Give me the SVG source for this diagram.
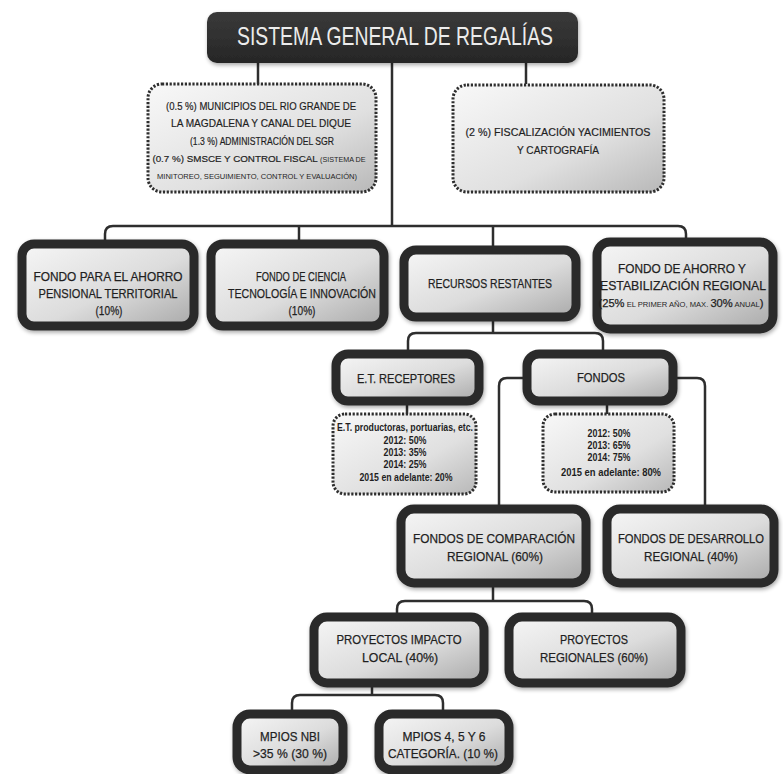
<svg xmlns="http://www.w3.org/2000/svg" width="783" height="774" viewBox="0 0 783 774">
<defs>
<linearGradient id="gBox" x1="0" y1="0" x2="1" y2="1">
<stop offset="0" stop-color="#f6f6f6"/><stop offset="0.55" stop-color="#dcdcdc"/><stop offset="1" stop-color="#a9a9a9"/>
</linearGradient>
<linearGradient id="gDash" x1="0" y1="0" x2="1" y2="1">
<stop offset="0" stop-color="#f8f8f8"/><stop offset="0.6" stop-color="#e0e0e0"/><stop offset="1" stop-color="#b8b8b8"/>
</linearGradient>
<linearGradient id="gTitle" x1="0" y1="0" x2="0" y2="1">
<stop offset="0" stop-color="#3a3a3a"/><stop offset="1" stop-color="#262626"/>
</linearGradient>
<filter id="sh" x="-10%" y="-10%" width="120%" height="130%">
<feGaussianBlur in="SourceAlpha" stdDeviation="2"/><feOffset dx="1" dy="2"/>
<feComponentTransfer><feFuncA type="linear" slope="0.35"/></feComponentTransfer>
<feMerge><feMergeNode/><feMergeNode in="SourceGraphic"/></feMerge>
</filter>
</defs>
<style>
.box{fill:url(#gBox);stroke:#2a2a2a;stroke-width:9;filter:url(#sh)}
.dash{fill:url(#gDash);stroke:#2e2e2e;stroke-width:3;stroke-dasharray:2.2 1.6}
.conn{fill:none;stroke:#2e2e2e;stroke-width:2.5}
text{font-family:"Liberation Sans",Arial,sans-serif;fill:#1f1f1f;text-anchor:middle}
.st{text-anchor:start}
.t{font-size:13px;stroke:#1f1f1f;stroke-width:0.25}
.s{font-size:11.5px;stroke:#1f1f1f;stroke-width:0.2}
.sm{font-size:7.5px}
.ts{font-size:11px;stroke:#1f1f1f;stroke-width:0.25}
.b{font-size:10.5px;font-weight:bold}
.title{font-size:26px;fill:#ececec}
</style>

<g id="connectors">
<path class="conn" d="M392,63 V226"/>
<path class="conn" d="M258,63 V84"/>
<path class="conn" d="M526,63 V84"/>
<path class="conn" d="M105,241 V234 Q105,226 113,226 H678 Q686,226 686,234 V239"/>
<path class="conn" d="M299,226 V241"/>
<path class="conn" d="M493,226 V247"/>
<path class="conn" d="M493,320 V333"/>
<path class="conn" d="M408,351 V341 Q408,333 416,333 H595 Q603,333 603,341 V351"/>
<path class="conn" d="M407,405 V414"/>
<path class="conn" d="M607,405 V414"/>
<path class="conn" d="M523,378 H507 Q499,378 499,386 V506"/>
<path class="conn" d="M677,378 H697 Q705,378 705,386 V506"/>
<path class="conn" d="M493,587 V601"/>
<path class="conn" d="M397,614 V609 Q397,601 405,601 H584 Q592,601 592,609 V614"/>
<path class="conn" d="M372,687 V695"/>
<path class="conn" d="M292,711 V703 Q292,695 300,695 H435 Q443,695 443,703 V711"/>
</g>

<g id="n-title">
<rect x="207" y="12" width="371" height="51" rx="10" fill="url(#gTitle)" filter="url(#sh)"/>
<text class="title" x="395" y="45" textLength="316" lengthAdjust="spacingAndGlyphs">SISTEMA GENERAL DE REGALÍAS</text>
</g>

<g id="n-municipios">
<rect class="dash" x="148" y="84" width="228" height="108" rx="14"/>
<text class="s" x="261" y="110" textLength="190" lengthAdjust="spacingAndGlyphs">(0.5 %) MUNICIPIOS DEL RIO GRANDE DE</text>
<text class="s" x="261" y="127" textLength="180" lengthAdjust="spacingAndGlyphs">LA MAGDALENA Y CANAL DEL DIQUE</text>
<text class="s" x="262" y="145" textLength="144" lengthAdjust="spacingAndGlyphs">(1.3 %) ADMINISTRACIÓN DEL SGR</text>
<text x="259" y="162" style="font-size:9.8px;stroke:#1f1f1f;stroke-width:0.2">(0.7 %) SMSCE Y CONTROL FISCAL <tspan style="font-size:7.2px;stroke-width:0">(SISTEMA DE</tspan></text>
<text class="sm" x="257" y="179" textLength="200" lengthAdjust="spacingAndGlyphs">MINITOREO, SEGUIMIENTO, CONTROL Y EVALUACIÓN)</text>
</g>

<g id="n-fiscalizacion">
<rect class="dash" x="453" y="85" width="211" height="107" rx="14"/>
<text class="s" x="558" y="136" textLength="185" lengthAdjust="spacingAndGlyphs">(2 %) FISCALIZACIÓN YACIMIENTOS</text>
<text class="s" x="558" y="154" textLength="82" lengthAdjust="spacingAndGlyphs">Y CARTOGRAFÍA</text>
</g>

<g id="n-pensional">
<rect class="box" x="22" y="244" width="172" height="82" rx="12"/>
<text class="t" x="108" y="281" textLength="149" lengthAdjust="spacingAndGlyphs">FONDO PARA EL AHORRO</text>
<text class="t" x="108" y="298" textLength="139" lengthAdjust="spacingAndGlyphs">PENSIONAL TERRITORIAL</text>
<text class="t" x="109" y="315" textLength="27" lengthAdjust="spacingAndGlyphs">(10%)</text>
</g>

<g id="n-ciencia">
<rect class="box" x="211" y="244" width="173" height="82" rx="12"/>
<text class="t" x="301" y="281" textLength="90" lengthAdjust="spacingAndGlyphs">FONDO DE CIENCIA</text>
<text class="t" x="302" y="298" textLength="148" lengthAdjust="spacingAndGlyphs">TECNOLOGÍA E INNOVACIÓN</text>
<text class="t" x="302" y="315" textLength="27" lengthAdjust="spacingAndGlyphs">(10%)</text>
</g>

<g id="n-recursos">
<rect class="box" x="404" y="250" width="172" height="67" rx="12"/>
<text class="t" x="490" y="288" textLength="124" lengthAdjust="spacingAndGlyphs">RECURSOS RESTANTES</text>
</g>

<g id="n-estabilizacion">
<rect class="box" x="597" y="242" width="176" height="87" rx="13"/>
<text class="t" x="682" y="273" textLength="128" lengthAdjust="spacingAndGlyphs">FONDO DE AHORRO Y</text>
<text class="t" x="683" y="290" textLength="166" lengthAdjust="spacingAndGlyphs">ESTABILIZACIÓN REGIONAL</text>
<text class="ts" x="681" y="307" textLength="165" lengthAdjust="spacingAndGlyphs">(25%<tspan class="sm" stroke-width="0"> EL PRIMER AÑO, MAX. </tspan>30%<tspan class="sm" stroke-width="0"> ANUAL</tspan>)</text>
</g>

<g id="n-receptores">
<rect class="box" x="336" y="354" width="143" height="47" rx="12"/>
<text class="t" x="406" y="383" textLength="98" lengthAdjust="spacingAndGlyphs">E.T. RECEPTORES</text>
</g>

<g id="n-fondos">
<rect class="box" x="527" y="354" width="146" height="47" rx="12"/>
<text class="t" x="601" y="382" textLength="48" lengthAdjust="spacingAndGlyphs">FONDOS</text>
</g>

<g id="n-receptores-detalle">
<rect class="dash" x="333" y="414" width="143" height="80" rx="12"/>
<text class="b" x="405" y="431" textLength="136" lengthAdjust="spacingAndGlyphs">E.T. productoras, portuarias, etc.</text>
<text class="b" x="405" y="444" textLength="43" lengthAdjust="spacingAndGlyphs">2012: 50%</text>
<text class="b" x="405" y="456" textLength="43" lengthAdjust="spacingAndGlyphs">2013: 35%</text>
<text class="b" x="405" y="468" textLength="43" lengthAdjust="spacingAndGlyphs">2014: 25%</text>
<text class="b" x="406" y="481" textLength="93" lengthAdjust="spacingAndGlyphs">2015 en adelante: 20%</text>
</g>

<g id="n-fondos-detalle">
<rect class="dash" x="543" y="414" width="131" height="78" rx="12"/>
<text class="b" x="609" y="437" textLength="43" lengthAdjust="spacingAndGlyphs">2012: 50%</text>
<text class="b" x="609" y="449" textLength="43" lengthAdjust="spacingAndGlyphs">2013: 65%</text>
<text class="b" x="609" y="461" textLength="43" lengthAdjust="spacingAndGlyphs">2014: 75%</text>
<text class="b" x="611" y="476" textLength="100" lengthAdjust="spacingAndGlyphs">2015 en adelante: 80%</text>
</g>

<g id="n-compensacion">
<rect class="box" x="401" y="509" width="185" height="74" rx="13"/>
<text class="t" x="494" y="543" textLength="162" lengthAdjust="spacingAndGlyphs">FONDOS DE COMPARACIÓN</text>
<text class="t" x="495" y="561" textLength="96" lengthAdjust="spacingAndGlyphs">REGIONAL (60%)</text>
</g>

<g id="n-desarrollo">
<rect class="box" x="607" y="509" width="167" height="74" rx="13"/>
<text class="t" x="691" y="543" textLength="146" lengthAdjust="spacingAndGlyphs" style="font-size:12px">FONDOS DE DESARROLLO</text>
<text class="t" x="691" y="561" textLength="94" lengthAdjust="spacingAndGlyphs">REGIONAL (40%)</text>
</g>

<g id="n-impacto">
<rect class="box" x="314" y="617" width="170" height="66" rx="13"/>
<text class="t" x="399" y="644" textLength="125" lengthAdjust="spacingAndGlyphs">PROYECTOS IMPACTO</text>
<text class="t" x="400" y="662" textLength="76" lengthAdjust="spacingAndGlyphs">LOCAL (40%)</text>
</g>

<g id="n-regionales">
<rect class="box" x="509" y="617" width="172" height="66" rx="13"/>
<text class="t" x="594" y="644" textLength="68" lengthAdjust="spacingAndGlyphs">PROYECTOS</text>
<text class="t" x="594" y="662" textLength="108" lengthAdjust="spacingAndGlyphs">REGIONALES (60%)</text>
</g>

<g id="n-nbi">
<rect class="box" x="237" y="714" width="106" height="56" rx="13"/>
<text class="t" x="290" y="741" textLength="60" lengthAdjust="spacingAndGlyphs">MPIOS NBI</text>
<text class="t" x="290" y="758" textLength="74" lengthAdjust="spacingAndGlyphs">&gt;35 % (30 %)</text>
</g>

<g id="n-categoria">
<rect class="box" x="379" y="714" width="130" height="56" rx="13"/>
<text class="t" x="444" y="741" textLength="83" lengthAdjust="spacingAndGlyphs">MPIOS 4, 5 Y 6</text>
<text class="t" x="443" y="758" textLength="110" lengthAdjust="spacingAndGlyphs">CATEGORÍA. (10 %)</text>
</g>
</svg>
